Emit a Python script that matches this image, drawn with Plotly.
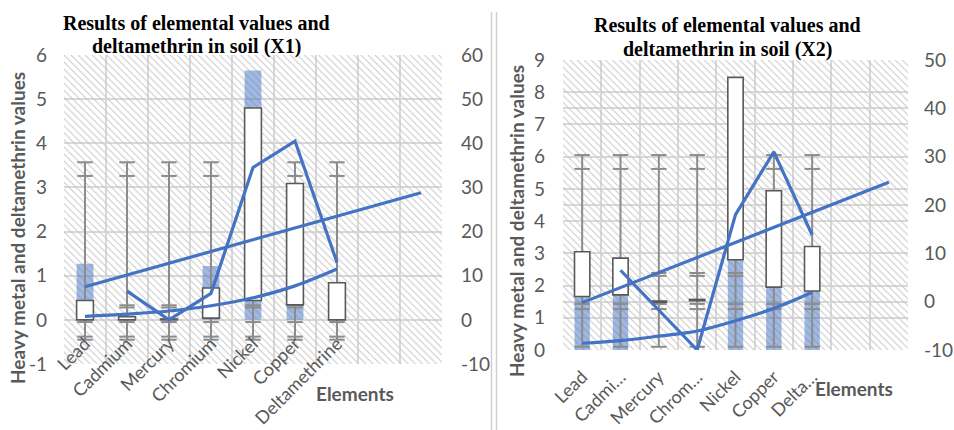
import plotly.graph_objects as go

# ---------------- data ----------------
categories = ["Lead", "Cadmium", "Mercury", "Chromium", "Nickel", "Copper", "Deltamethrine"]
labels_x2 = ["Lead", "Cadmi…", "Mercury", "Chrom…", "Nickel", "Copper", "Delta…"]
trend_forward = 2  # linear trendline is extended two periods ahead

# soil X1 (left axis -1..6, right axis -10..60)
x1_column = [1.27, 0.0, 0.0, 1.22, 5.65, 0.34, 0.0]
x1_box_low = [0.0, 0.0, 0.0, 0.04, 0.44, 0.34, 0.0]
x1_box_high = [0.44, 0.07, 0.02, 0.72, 4.80, 3.09, 0.84]
x1_range_low = [-0.45] * 7
x1_range_high = [3.57] * 7
x1_marks = [3.57, 3.26, 0.33, 0.28, -0.05, -0.38, -0.45]
x1_series = [None, 6.5, 0.0, 6.0, 34.5, 40.5, 13.0]
x1_linear = [7.5, 28.8]
x1_exponential = [0.08, 0.13, 0.20, 0.32, 0.50, 0.77, 1.15]
x1_left_ticks = [-1, 0, 1, 2, 3, 4, 5, 6]
x1_right_ticks = [-10, 0, 10, 20, 30, 40, 50, 60]

# soil X2 (left axis 0..9, right axis -10..50)
x2_column = [1.66, 1.71, 0.0, 0.0, 2.80, 1.95, 1.83]
x2_box_low = [1.66, 1.71, 1.48, 1.53, 2.80, 1.95, 1.83]
x2_box_high = [3.05, 2.85, 1.52, 1.57, 8.46, 4.94, 3.21]
x2_range_low = [0.10] * 7
x2_range_high = [6.05] * 7
x2_marks = [6.05, 5.62, 2.39, 2.30, 1.43, 1.27, 0.10]
x2_series = [None, 6.5, -1.8, -10.0, 18.0, 31.0, 13.8]
x2_linear = [-0.2, 24.7]
x2_exponential = [0.21, 0.29, 0.43, 0.59, 0.91, 1.29, 1.79]
x2_left_ticks = [0, 1, 2, 3, 4, 5, 6, 7, 8, 9]
x2_right_ticks = [-10, 0, 10, 20, 30, 40, 50]

# ---------------- styling ----------------
W, H = 954, 430
BLUE = "#4472C4"
GRID = "#d9d9d9"
TXT = "#595959"
WHISKER = "#8c8c8c"
FONT = "Lato"


def px_x(p):
    return p / W


def px_y(p):
    return 1 - p / H


fig = go.Figure()


def add_panel(xa, ya, yb, yc, yrange, data):
    column, lo, hi, rlo, rhi, marks, series, linear, expo = data
    n = len(categories)
    slots = n + trend_forward
    idx = list(range(n))
    # hatched plot-area fill
    fig.add_trace(go.Bar(
        x=[(slots - 1) / 2], y=[yrange[1] - yrange[0]], base=[yrange[0]], width=[slots],
        xaxis=xa, yaxis=ya, hoverinfo="skip", showlegend=False,
        marker=dict(color="rgba(0,0,0,0)", line=dict(width=0),
                    pattern=dict(shape="\\", fgcolor="#c4c4c4", bgcolor="rgba(0,0,0,0)",
                                 size=5, solidity=0.18, fillmode="replace")),
    ))
    # blue columns
    fig.add_trace(go.Bar(
        x=idx, y=column, width=0.4, xaxis=xa, yaxis=ya, showlegend=False,
        marker=dict(color="rgba(68,114,196,0.5)", line=dict(width=0)),
    ))
    # high-low lines
    wx, wy = [], []
    for i in idx:
        wx += [i, i, None]
        wy += [rlo[i], rhi[i], None]
    fig.add_trace(go.Scatter(
        x=wx, y=wy, mode="lines", xaxis=xa, yaxis=ya, showlegend=False,
        line=dict(color=WHISKER, width=2),
    ))
    # caps on the high-low lines
    cx, cy = [], []
    for i in idx:
        for m in marks:
            cx.append(i)
            cy.append(m)
    fig.add_trace(go.Scatter(
        x=cx, y=cy, mode="markers", xaxis=xa, yaxis=ya, showlegend=False,
        marker=dict(symbol="line-ew", size=11, line=dict(color=WHISKER, width=2)),
    ))
    # up/down boxes
    fig.add_trace(go.Bar(
        x=idx, y=[h - l for h, l in zip(hi, lo)], base=lo, width=0.4,
        xaxis=xa, yaxis=yb, showlegend=False,
        marker=dict(color="white", line=dict(color=TXT, width=1.6)),
    ))
    # exponential trend
    fig.add_trace(go.Scatter(
        x=idx, y=expo, mode="lines", line=dict(color=BLUE, width=3.2, shape="spline"),
        xaxis=xa, yaxis=yb, showlegend=False,
    ))
    # series on secondary axis
    fig.add_trace(go.Scatter(
        x=idx, y=series, mode="lines", line=dict(color=BLUE, width=3.2),
        xaxis=xa, yaxis=yc, showlegend=False, connectgaps=False,
    ))
    # linear trend, forecast forward
    fig.add_trace(go.Scatter(
        x=[0, n - 1 + trend_forward], y=linear, mode="lines",
        line=dict(color=BLUE, width=3.2),
        xaxis=xa, yaxis=yc, showlegend=False,
    ))


add_panel("x", "y", "y2", "y3", (-1, 6),
          (x1_column, x1_box_low, x1_box_high, x1_range_low, x1_range_high,
           x1_marks, x1_series, x1_linear, x1_exponential))
add_panel("x2", "y4", "y5", "y6", (0, 9),
          (x2_column, x2_box_low, x2_box_high, x2_range_low, x2_range_high,
           x2_marks, x2_series, x2_linear, x2_exponential))

tickfont = dict(family=FONT, size=19, color=TXT)
catfont = dict(family=FONT, size=18, color=TXT)

p1x = [px_x(64), px_x(442)]
p1y = [px_y(364), px_y(55)]
p2x = [px_x(563), px_x(908)]
p2y = [px_y(350), px_y(60)]
zero_pos = p1y[0] + (0 - (-1)) / 7 * (p1y[1] - p1y[0])

n_slots = len(categories) + trend_forward


def cat_axis(domain, labels, standoff, **kw):
    d = dict(domain=domain, range=[-0.5, n_slots - 0.5], tickmode="array",
             tickvals=list(range(len(labels))), ticktext=labels, tickangle=-45,
             showgrid=False, zeroline=False, ticks="", tickfont=catfont,
             ticklabelstandoff=standoff, fixedrange=True, automargin=False,
             minor=dict(tickmode="linear", tick0=-0.5, dtick=1, showgrid=True,
                        gridcolor=GRID, gridwidth=1.5, ticks=""))
    d.update(kw)
    return d


def val_axis(domain, rng, ticks, anchor, standoff, **kw):
    d = dict(domain=domain, range=rng, tickmode="array", tickvals=ticks,
             ticktext=[str(t) for t in ticks], showgrid=True,
             gridcolor=GRID, gridwidth=1.5, zeroline=False, ticks="",
             tickfont=tickfont, anchor=anchor, ticklabelstandoff=standoff,
             automargin=False)
    d.update(kw)
    return d


fig.update_layout(
    width=W, height=H, margin=dict(l=0, r=0, t=0, b=0, autoexpand=False),
    paper_bgcolor="white", plot_bgcolor="white", barmode="overlay",
    showlegend=False,
    xaxis=cat_axis(p1x, categories, 9, anchor="free", position=zero_pos),
    yaxis=val_axis(p1y, [-1, 6], x1_left_ticks, "x", 16),
    yaxis2=dict(overlaying="y", range=[-1, 6], visible=False, anchor="x"),
    yaxis3=val_axis(p1y, [-10, 60], x1_right_ticks, "x", 18, overlaying="y",
                    side="right", showgrid=False),
    xaxis2=cat_axis(p2x, labels_x2, 12, anchor="y4"),
    yaxis4=val_axis(p2y, [0, 9], x2_left_ticks, "x2", 17),
    yaxis5=dict(overlaying="y4", range=[0, 9], visible=False, anchor="x2"),
    yaxis6=val_axis(p2y, [-10, 50], x2_right_ticks, "x2", 15, overlaying="y4",
                    side="right"),
)

# chart frame separators
for xp in (491.5, 496.5):
    fig.add_shape(type="line", xref="paper", yref="paper", x0=px_x(xp), x1=px_x(xp),
                  y0=0, y1=px_y(12), line=dict(color="#d0d0d0", width=1.5))

title_font = dict(family="Liberation Serif", size=20, color="black")
title_lines = ["<b>Results of elemental values and</b>", "<b>deltamethrin in soil ({})</b>"]
for name, xc, ys in (("X1", 196, (23, 46)), ("X2", 727, (25, 49))):
    for line, yc in zip(title_lines, ys):
        fig.add_annotation(text=line.format(name), x=px_x(xc), y=px_y(yc), xref="paper",
                           yref="paper", showarrow=False, font=title_font,
                           xanchor="center", yanchor="middle")

axis_title_font = dict(family=FONT, size=19, color=TXT)
for xp, yp in ((18, 228), (517, 221)):
    fig.add_annotation(text="<b>Heavy metal and deltamethrin values</b>", x=px_x(xp),
                       y=px_y(yp), xref="paper", yref="paper", showarrow=False,
                       textangle=-90, font=axis_title_font, xanchor="center",
                       yanchor="middle")
for xp, yp in ((355, 393), (854, 388)):
    fig.add_annotation(text="<b>Elements</b>", x=px_x(xp), y=px_y(yp), xref="paper",
                       yref="paper", showarrow=False, font=axis_title_font,
                       xanchor="center", yanchor="middle")

fig.write_html("out.html")
